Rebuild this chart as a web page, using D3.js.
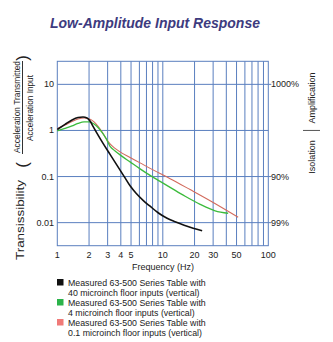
<!DOCTYPE html>
<html>
<head>
<meta charset="utf-8">
<script src="https://cdn.jsdelivr.net/npm/d3@7"></script>
<style>
  body { margin: 0; background: #fff; }
  svg { display: block; font-family: "Liberation Sans", Arial, sans-serif; }
</style>
</head>
<body>
<svg id="chart" width="333" height="342"></svg>
<script>
// measured transmissibility curves, [frequency Hz, ratio]
const floor40 = [
  [1, 1.05], [1.183, 1.35], [1.379, 1.69], [1.572, 1.91], [1.753, 1.96], [1.913, 1.865],
  [2.043, 1.606], [2.182, 1.22], [2.381, 0.861], [2.714, 0.523], [3.162, 0.302],
  [3.685, 0.175], [4.294, 0.101], [4.896, 0.0629], [5.581, 0.0433], [6.504, 0.0305],
  [7.578, 0.0227], [9.024, 0.0164], [10.98, 0.01245], [13.08, 0.01046], [15.93, 0.00878],
  [19.39, 0.00756], [23.6, 0.00668]
];
const floor4 = [
  [1, 0.975], [1.183, 1.105], [1.379, 1.251], [1.572, 1.417], [1.792, 1.528], [2.0, 1.528],
  [2.229, 1.382], [2.433, 1.161], [2.656, 0.905], [2.897, 0.671], [3.162, 0.45],
  [3.527, 0.36], [3.935, 0.295], [4.896, 0.208], [6.089, 0.147], [7.578, 0.106],
  [9.428, 0.0787], [11.73, 0.0584], [16.28, 0.0373], [22.59, 0.025], [31.34, 0.0181],
  [41.65, 0.016]
];
const floor01 = [
  [1, 1.105], [1.183, 1.315], [1.379, 1.566], [1.572, 1.774], [1.792, 1.865], [2.0, 1.792],
  [2.229, 1.528], [2.433, 1.221], [2.656, 0.928], [2.897, 0.671], [3.162, 0.51],
  [3.527, 0.408], [3.935, 0.3425], [4.896, 0.26], [6.089, 0.198], [7.578, 0.1505],
  [11.73, 0.09], [18.16, 0.0521], [28.1, 0.0299], [51.8, 0.0131]
];

const xTicks = [1, 2, 3, 4, 5, 10, 20, 30, 50, 100];
const xGrid = [2, 3, 4, 5, 6, 7, 8, 9, 10, 20, 30, 40, 50, 60, 70, 80, 90];
const yTicks = [10, 1, 0.1, 0.01];
const yTickLabels = ["10", "1", "0.1", "0.01"];
const rightTicks = [10, 0.1, 0.01];
const rightLabels = ["1000%", "90%", "99%"];

const legendItems = [
  { color: "#111111", lines: ["Measured 63-500 Series Table with", "40 microinch floor inputs (vertical)"] },
  { color: "#2bb34a", lines: ["Measured 63-500 Series Table with", "4 microinch floor inputs (vertical)"] },
  { color: "#f07a78", lines: ["Measured 63-500 Series Table with", "0.1 microinch floor inputs (vertical)"] }
];
// black, green, red
const seriesColors = ["#111111", "#3cbb3c", "#d26a5c"];
const seriesWidths = [1.6, 1.3, 1.1];

const svg = d3.select("#chart");
const plotLeft = 57.3, plotRight = 268.3, plotTop = 61.3, plotBottom = 245.7;
const gridColor = "#5a7fbf";
const labelColor = "#222";

const x = d3.scaleLog().domain([1, 100]).range([plotLeft, plotRight]);
const y = d3.scaleLog().domain([Math.pow(10, -2.5), Math.pow(10, 1.5)]).range([plotBottom, plotTop]);

// title
svg.append("text")
  .attr("x", 155).attr("y", 28)
  .attr("text-anchor", "middle")
  .attr("font-size", 14).attr("font-weight", "bold").attr("font-style", "italic")
  .attr("fill", "#3d3b7e")
  .text("Low-Amplitude Input Response");

// grid
const grid = svg.append("g").attr("stroke", gridColor).attr("stroke-width", 1);
grid.selectAll(".vg").data(xGrid).enter().append("line")
  .attr("x1", d => x(d)).attr("x2", d => x(d))
  .attr("y1", plotTop).attr("y2", plotBottom);
grid.selectAll(".hg").data(yTicks).enter().append("line")
  .attr("x1", plotLeft).attr("x2", plotRight)
  .attr("y1", d => y(d)).attr("y2", d => y(d));
grid.append("rect")
  .attr("x", plotLeft).attr("y", plotTop)
  .attr("width", plotRight - plotLeft).attr("height", plotBottom - plotTop)
  .attr("fill", "none");
grid.selectAll(".rt").data(rightTicks).enter().append("line")
  .attr("x1", plotRight).attr("x2", plotRight + 3)
  .attr("y1", d => y(d)).attr("y2", d => y(d));

// curves, red first so black sits on top
const line = d3.line()
  .x(d => x(d[0]))
  .y(d => y(d[1]))
  .curve(d3.curveMonotoneX);

[floor01, floor4, floor40].forEach((s, i) => {
  svg.append("path")
    .datum(s)
    .attr("fill", "none")
    .attr("stroke", seriesColors[2 - i])
    .attr("stroke-width", seriesWidths[2 - i])
    .attr("stroke-linejoin", "round")
    .attr("d", line);
});

// tick labels
svg.selectAll(".xl").data(xTicks).enter().append("text")
  .attr("x", d => x(d)).attr("y", 258)
  .attr("text-anchor", "middle")
  .attr("font-size", 9).attr("fill", labelColor)
  .text(d => d);

svg.selectAll(".yl").data(yTicks).enter().append("text")
  .attr("x", 54).attr("y", d => y(d) + 3)
  .attr("text-anchor", "end")
  .attr("font-size", 9).attr("fill", labelColor)
  .text((d, i) => yTickLabels[i]);

svg.selectAll(".rl").data(rightTicks).enter().append("text")
  .attr("x", 271).attr("y", d => y(d) + 3)
  .attr("font-size", 9).attr("fill", labelColor)
  .text((d, i) => rightLabels[i]);

svg.append("text")
  .attr("x", 163).attr("y", 269.5)
  .attr("text-anchor", "middle")
  .attr("font-size", 9).attr("fill", labelColor)
  .text("Frequency (Hz)");

// right side: amplification / isolation
svg.append("text")
  .attr("transform", "translate(315,98) rotate(-90)")
  .attr("text-anchor", "middle")
  .attr("font-size", 9).attr("fill", labelColor)
  .text("Amplification");
svg.append("text")
  .attr("transform", "translate(315,157) rotate(-90)")
  .attr("text-anchor", "middle")
  .attr("font-size", 9).attr("fill", labelColor)
  .text("Isolation");
svg.append("line")
  .attr("x1", 303).attr("x2", 320)
  .attr("y1", y(1)).attr("y2", y(1))
  .attr("stroke", "#555").attr("stroke-width", 1);

// left side: transmissibility ratio
function vText(tx, ty, size, len, str) {
  const t = svg.append("text")
    .attr("transform", `translate(${tx},${ty}) rotate(-90)`)
    .attr("text-anchor", "middle")
    .attr("font-size", size).attr("fill", labelColor)
    .text(str);
  if (len) t.attr("textLength", len).attr("lengthAdjust", "spacingAndGlyphs");
  return t;
}
vText(24, 220, 10.5, 80, "Transissibility");
vText(27.5, 165, 17, null, "(");
vText(27.5, 58, 17, null, ")");
vText(19.5, 107, 9.5, 92, "Acceleration Transmitted");
svg.append("line")
  .attr("x1", 22.5).attr("x2", 22.5)
  .attr("y1", 61).attr("y2", 154)
  .attr("stroke", "#333").attr("stroke-width", 1);
vText(32.5, 108, 9.5, 66, "Acceleration Input");

// legend
const legend = svg.append("g");
legendItems.forEach((item, i) => {
  const y0 = 286 + i * 20;
  legend.append("rect")
    .attr("x", 57).attr("y", y0 - 7)
    .attr("width", 6.5).attr("height", 6.5)
    .attr("fill", item.color);
  item.lines.forEach((t, j) => {
    legend.append("text")
      .attr("x", 68).attr("y", y0 + j * 10)
      .attr("font-size", 8.8).attr("fill", labelColor)
      .text(t);
  });
});
</script>
</body>
</html>
